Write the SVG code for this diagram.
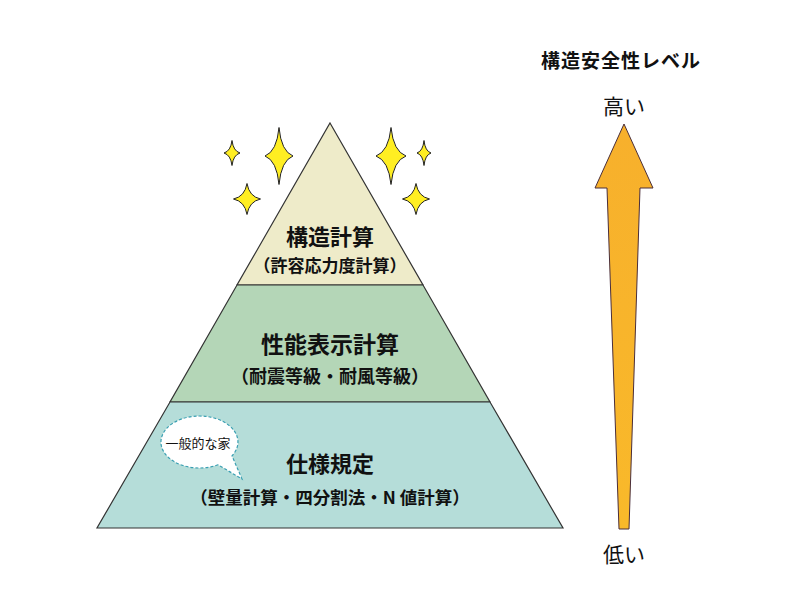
<svg xmlns="http://www.w3.org/2000/svg" width="801" height="600" viewBox="0 0 801 600">
<defs>
<style>
.t{font-family:"Noto Sans CJK JP","Noto Sans",sans-serif;text-anchor:middle;fill:#111}
.b{font-weight:bold}
.star{fill:#FFEE22;stroke:#222;stroke-width:1}
.layer{stroke:#333;stroke-width:1.2}
</style>
<linearGradient id="ag" x1="0" y1="0" x2="0" y2="1">
<stop offset="0" stop-color="#F7B02C"/>
<stop offset="1" stop-color="#F9B92A"/>
</linearGradient>
</defs>
<rect width="801" height="600" fill="#fff"/>

<g id="sparkles">
<path class="star" d="M232,140.5 Q233.3,151 240,153 Q233.3,155 232,165.5 Q230.7,155 224,153 Q230.7,151 232,140.5Z"/>
<path class="star" d="M279,127.5 Q281.2,151.4 293,156 Q281.2,160.6 279,184.5 Q276.8,160.6 265,156 Q276.8,151.4 279,127.5Z"/>
<path class="star" d="M247,183.5 Q249.2,196.5 260.5,199 Q249.2,201.5 247,214.5 Q244.8,201.5 233.5,199 Q244.8,196.5 247,183.5Z"/>
<path class="star" d="M391,127.5 Q393.4,151.4 406,156 Q393.4,160.6 391,184.5 Q388.6,160.6 376,156 Q388.6,151.4 391,127.5Z"/>
<path class="star" d="M424,140.5 Q425.1,151 431,153 Q425.1,155 424,165.5 Q422.9,155 417,153 Q422.9,151 424,140.5Z"/>
<path class="star" d="M416,183.5 Q418.2,196.5 429.5,199 Q418.2,201.5 416,214.5 Q413.8,201.5 402.5,199 Q413.8,196.5 416,183.5Z"/>
</g>

<g id="layer-top">
<polygon class="layer" points="330,123 423,285 237,285" fill="#EEEBC9"/>
<text class="t b" x="330" y="245" font-size="22">構造計算</text>
<text class="t b" x="330" y="272" font-size="17">（許容応力度計算）</text>
</g>
<g id="layer-mid">
<polygon class="layer" points="237,285 423,285 490,402 170,402" fill="#B4D6B7"/>
<text class="t b" x="330" y="353" font-size="23">性能表示計算</text>
<text class="t b" x="330" y="383" font-size="18">（耐震等級・耐風等級）</text>
</g>
<g id="layer-bottom">
<polygon class="layer" points="170,402 490,402 563,528 97,528" fill="#B5DDD9"/>
<text class="t b" x="330" y="472" font-size="22">仕様規定</text>
<text class="t b" x="330" y="504" font-size="17.5">（壁量計算・四分割法・N 値計算）</text>
</g>

<g id="bubble">
<path d="M218,464.8 A38.5,26 0 1 1 232,455.9 L242,479 Z" fill="#fff" stroke="#3A9FB2" stroke-width="1.2" stroke-dasharray="3,2"/>
<text class="t" x="198" y="448" font-size="13">一般的な家</text>
</g>

<g id="scale">
<text class="t b" x="621" y="68" font-size="19" letter-spacing="1">構造安全性レベル</text>
<text class="t" x="624" y="114" font-size="21">高い</text>
<path d="M624,124 L653,188 L640,188 L629,529 L619,529 L607,188 L595,188 Z" fill="url(#ag)" stroke="#4A2E3A" stroke-width="1"/>
<text class="t" x="624" y="562" font-size="21">低い</text>
</g>
</svg>
